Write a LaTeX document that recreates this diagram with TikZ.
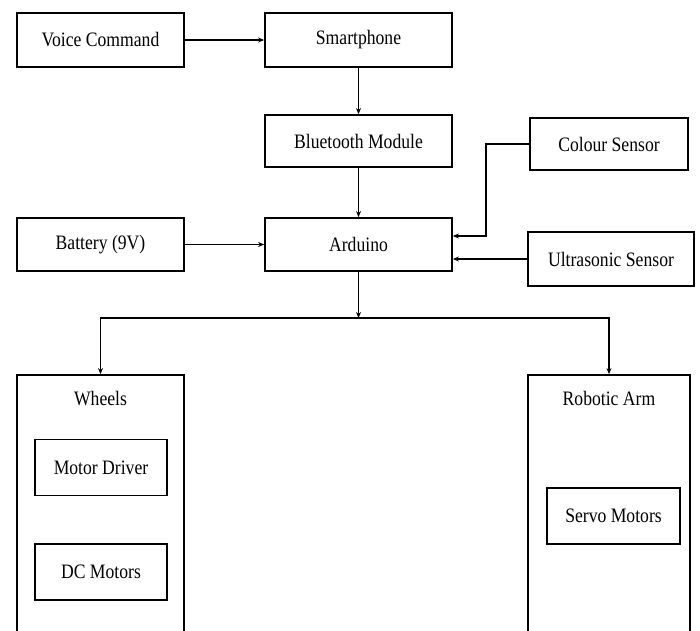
\documentclass[tikz,border=0pt]{standalone}
\usepackage{fontspec}
\setmainfont{Liberation Serif}[FakeStretch=0.86]
\usepackage{tikz}
\usetikzlibrary{arrows.meta, positioning}

\begin{document}
\begin{tikzpicture}
        [
        x=1pt, y=-1pt,
        font=\fontsize{20.5}{23}\selectfont,
        block/.style={draw, line width=1.8pt, rectangle, minimum height=54pt, inner sep=0pt},
        group/.style={draw, line width=1.8pt, rectangle, minimum height=285pt, inner sep=0pt},
        arrow/.style={-{Stealth[length=6pt, width=5pt]}, line width=1.6pt}
        ]

        \useasboundingbox (0,0) rectangle (700,630);
        \clip (0,0) rectangle (700,630);

        \node[block, minimum width=167pt] (voice) at (100.5,40) {Voice Command};
        \node[block, minimum width=187pt] (phone) at (358.5,40) {Smartphone};
        \node[block, minimum width=187pt, minimum height=52pt] (bt) at (358.5,141) {Bluetooth Module};
        \node[block, minimum width=158pt, minimum height=52pt] (colour) at (609,144) {Colour Sensor};

        \node[block, minimum width=167pt, minimum height=53pt] (battery) at (100.5,244.5) {Battery (9V)};
        \node[block, minimum width=187pt, minimum height=53pt] (arduino) at (358.5,244.5) {Arduino};
        \node[block, minimum width=166pt] (ultra) at (611,259) {Ultrasonic Sensor};

        \node[group, minimum width=167pt, label={[anchor=north, yshift=-14pt]north:Wheels}] (wheels) at (100.5,517.5) {};
        \node[group, minimum width=162pt, label={[anchor=north, yshift=-14pt]north:Robotic Arm}] (arm) at (609,517.5) {};

        \node[block, minimum width=132pt, minimum height=56pt] (driver) at (101,467.5) {Motor Driver};
        \node[block, minimum width=132pt, minimum height=56pt] (dc) at (101,572) {DC Motors};
        \node[block, minimum width=133pt, minimum height=56pt] (servo) at (613.5,516) {Servo Motors};

        \coordinate (split) at (358.5,318);

        \draw[arrow] (voice) -- (phone);
        \draw[arrow] (phone) -- (bt);
        \draw[arrow] (bt) -- (arduino);
        \draw[arrow] (battery) -- (arduino);
        \draw[arrow] (colour.west) -- ++(-43,0) |- ([yshift=8.5pt]arduino.east);
        \draw[arrow] (ultra.west) -- (arduino.east |- ultra.west);

        \draw[arrow] (arduino) -- (split);
        \draw[arrow] (split) -| (wheels.north);
        \draw[arrow] (split) -| (arm.north);

    \end{tikzpicture}
\end{document}
